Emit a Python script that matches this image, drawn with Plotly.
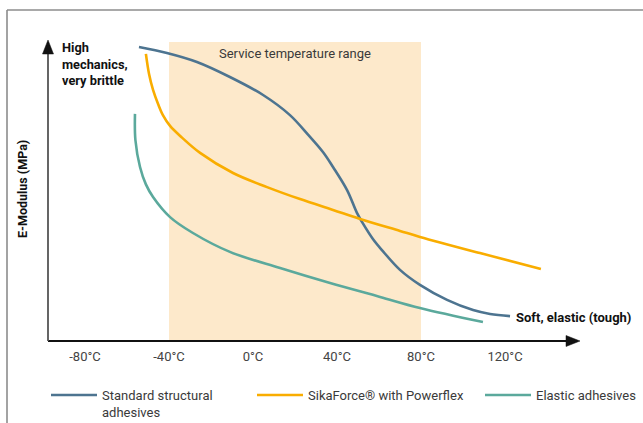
import plotly.graph_objects as go

# ---- data (temperature in °C, relative E-modulus) ----
tick_temps = [-80, -40, 0, 40, 80, 120]
tick_labels = ["-80°C", "-40°C", "0°C", "40°C", "80°C", "120°C"]

service_range = [-40, 80]

std_temp = [-54.3, -41.0, -26.7, -11.0, 4.8, 17.6, 26.2, 33.3, 38.1, 44.8, 49.5, 51.9, 57.1, 61.4,
            70.0, 79.5, 92.4, 104.8, 112.9, 122.4]
std_mod = [98.0, 96.0, 93.0, 88.0, 82.0, 75.3, 68.8, 63.0, 58.0, 50.3, 42.7, 39.7, 34.0, 30.3,
           23.7, 18.7, 13.7, 10.3, 9.0, 8.3]

sika_temp = [-51.0, -49.5, -47.6, -45.2, -42.9, -39.5, -33.8, -25.2, -9.5, 6.7, 22.4, 38.1, 51.0,
             70.0, 79.5, 108.1, 137.1]
sika_mod = [95.7, 89.0, 83.7, 79.0, 75.3, 71.7, 67.8, 62.7, 56.0, 51.3, 47.3, 43.7, 40.7,
            36.7, 34.7, 29.3, 24.0]

ela_temp = [-56.2, -56.0, -53.8, -51, -47.6, -39.5, -28.6, -11, 12.9, 36.7, 60.5, 79.5, 109.5]
ela_mod = [75.7, 67, 58, 52.2, 48, 41.3, 36, 29.7, 24.3, 19.3, 14.7, 11, 6.3]

series_names = ["Standard structural<br>adhesives", "SikaForce® with Powerflex", "Elastic adhesives"]
series_colors = ["#4d7490", "#f9ad00", "#5ba99c"]

# ---- layout geometry ----
W, H = 643, 423
ML, MR, MT, MB = 48, 63, 40, 82
PW, PH = W - ML - MR, H - MT - MB


def px_x(p):
    return (p - ML) / PW


def px_y(p):
    return (H - MB - p) / PH


FONT = "Roboto"
legend_ids = ["legend", "legend2", "legend3"]
legend_x = [46, 252, 480]

fig = go.Figure()
for t, m, name, col, lid in zip([std_temp, sika_temp, ela_temp], [std_mod, sika_mod, ela_mod],
                                series_names, series_colors, legend_ids):
    fig.add_trace(go.Scatter(x=t, y=m, mode="lines", name=name, legend=lid,
                             line=dict(color=col, width=2.6, shape="spline", smoothing=1.0),
                             hoverinfo="skip"))

shapes = []
# service temperature band
shapes.append(dict(type="rect", xref="x", yref="paper", x0=service_range[0], x1=service_range[1],
                   y0=0, y1=px_y(42), fillcolor="#fde9cb", line=dict(width=0), layer="below"))
# outer frame lines (top + left)
shapes.append(dict(type="line", xref="paper", yref="paper", x0=px_x(7), x1=px_x(W + 5),
                   y0=px_y(10), y1=px_y(10), line=dict(color="#8c8c8c", width=1.6)))
shapes.append(dict(type="line", xref="paper", yref="paper", x0=px_x(7), x1=px_x(7),
                   y0=px_y(10), y1=px_y(H + 5), line=dict(color="#8c8c8c", width=1.6)))
# axes with arrows
shapes.append(dict(type="line", xref="paper", yref="paper", x0=0, x1=px_x(568),
                   y0=0, y1=0, line=dict(color="#111111", width=1.8)))
shapes.append(dict(type="path", xref="paper", yref="paper",
                   path=f"M {px_x(566)},{px_y(335.5)} L {px_x(580)},{px_y(341)} L {px_x(566)},{px_y(346.5)} Z",
                   fillcolor="#111111", line=dict(color="#111111", width=0.5)))
shapes.append(dict(type="line", xref="paper", yref="paper", x0=0, x1=0,
                   y0=0, y1=px_y(52), line=dict(color="#555555", width=1.8)))
shapes.append(dict(type="path", xref="paper", yref="paper",
                   path=f"M {px_x(42.5)},{px_y(54)} L {px_x(48)},{px_y(40)} L {px_x(53.5)},{px_y(54)} Z",
                   fillcolor="#111111", line=dict(color="#111111", width=0.5)))

annotations = [
    dict(text="Service temperature range", x=sum(service_range) / 2, xref="x", y=px_y(54), yref="paper",
         showarrow=False, font=dict(family=FONT, size=13, color="#3a3a3a"), xanchor="center", yanchor="middle"),
    dict(text="<b>High<br>mechanics,<br>very brittle</b>", x=px_x(60), xref="paper", y=px_y(38), yref="paper",
         showarrow=False, align="left", xanchor="left", yanchor="top",
         font=dict(family=FONT, size=12.8, color="#111111")),
    dict(text="<b>Soft, elastic (tough)</b>", x=px_x(514), xref="paper", y=px_y(317), yref="paper",
         showarrow=False, xanchor="left", yanchor="middle",
         font=dict(family=FONT, size=13, color="#111111")),
    dict(text="<b>E-Modulus (MPa)</b>", x=px_x(22), xref="paper", y=px_y(189), yref="paper",
         showarrow=False, textangle=-90, xanchor="center", yanchor="middle",
         font=dict(family=FONT, size=12.5, color="#111111")),
]

legend_common = dict(orientation="h", xref="container", yref="container", xanchor="left",
                     y=1 - 380 / H, yanchor="top", valign="top",
                     font=dict(family=FONT, size=13, color="#3a3a3a"), itemwidth=46,
                     bgcolor="rgba(0,0,0,0)")
legend_layout = {lid: dict(legend_common, x=lx / W) for lid, lx in zip(legend_ids, legend_x)}

fig.update_layout(
    width=W, height=H,
    margin=dict(l=ML, r=MR, t=MT, b=MB, autoexpand=False),
    paper_bgcolor="white", plot_bgcolor="white",
    shapes=shapes, annotations=annotations,
    xaxis=dict(range=[(ML - 253) / 2.1, (ML + PW - 253) / 2.1], tickvals=tick_temps, ticktext=tick_labels,
               showgrid=False, zeroline=False, showline=False, ticks="", ticklabelstandoff=6,
               tickfont=dict(family=FONT, size=13, color="#444444"), fixedrange=True),
    yaxis=dict(range=[0, PH / 3], showticklabels=False, showgrid=False, zeroline=False,
               showline=False, ticks="", fixedrange=True),
    showlegend=True,
    **legend_layout,
)

fig.write_html("out.html", config={"displayModeBar": False, "staticPlot": True},
               post_script="document.body.style.margin='0';document.body.style.overflow='hidden';")
